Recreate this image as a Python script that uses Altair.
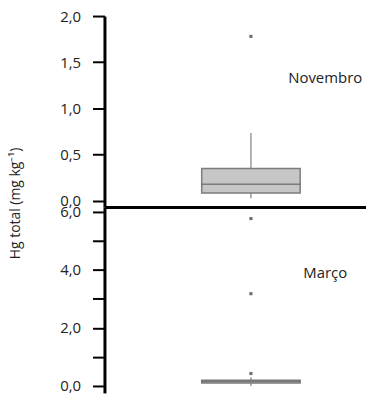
import altair as alt
import pandas as pd

# ---- data ----
months = ["Novembro", "Março"]
q1 = [0.086, 0.10]
median = [0.18, 0.15]
q3 = [0.35, 0.20]
whisk_lo = [0.03, 0.0]
whisk_hi = [0.735, 0.30]
outliers_nov = [1.78]
outliers_mar = [5.77, 3.18, 0.43]
ticks_nov = [0.0, 0.5, 1.0, 1.5, 2.0]
ticks_mar = [0, 1, 2, 3, 4, 5, 6]
y_title = "Hg total (mg kg⁻¹)"

FONT = "Open Sans"
W = 263


def panel(i, domain, height, outliers, ticks, label_expr, x_axis, title, label_y):
    box = pd.DataFrame({"mes": [months[i]], "q1": [q1[i]], "med": [median[i]],
                        "q3": [q3[i]], "lo": [whisk_lo[i]], "hi": [whisk_hi[i]]})
    out = pd.DataFrame({"mes": [months[i]] * len(outliers), "v": outliers})
    lab = pd.DataFrame({"t": [months[i]]})

    xenc = alt.X("mes:N", scale=alt.Scale(type="point", padding=0, align=0.56), axis=x_axis)
    yaxis = alt.Axis(values=ticks, labelExpr=label_expr, tickSize=12, tickWidth=2,
                     tickColor="black", domainColor="black", domainWidth=3,
                     labelFontSize=15, labelFont=FONT, labelColor="#222",
                     labelPadding=12, grid=False, title=title,
                     titleFont=FONT, titleFontSize=14, titleFontWeight="normal",
                     titleColor="#222", titlePadding=37, titleY=188)
    yscale = alt.Scale(domain=domain, nice=False, zero=False)

    whisker = alt.Chart(box).mark_rule(color="#9a9a9a", strokeWidth=1.5).encode(
        x=xenc, y=alt.Y("lo:Q", scale=yscale, axis=yaxis), y2="hi:Q")
    rect = alt.Chart(box).mark_bar(size=99, color="#c6c6c6", stroke="#7c7c7c",
                                   strokeWidth=1.5).encode(
        x=xenc, y=alt.Y("q1:Q", scale=yscale, axis=yaxis), y2="q3:Q")
    med = alt.Chart(box).mark_tick(size=99, color="#5c5c5c", thickness=1.5).encode(
        x=xenc, y=alt.Y("med:Q", scale=yscale, axis=yaxis))
    pts = alt.Chart(out).mark_square(size=10, color="#6e6e6e", opacity=1).encode(
        x=xenc, y=alt.Y("v:Q", scale=yscale, axis=yaxis))
    txt = alt.Chart(lab).mark_text(font=FONT, fontSize=15, color="#222").encode(
        text="t:N", x=alt.value(222), y=alt.value(label_y))
    return alt.layer(whisker, rect, med, pts, txt).properties(width=W, height=height)


fmt = "replace(format(datum.value, '.1f'), '.', ',')"
top = panel(0, [-0.065, 2.0], 192, outliers_nov, ticks_nov, fmt,
            alt.Axis(labels=False, ticks=False, title=None, domainColor="black",
                     domainWidth=3, grid=False),
            y_title, 62)
bottom = panel(1, [-0.24, 6.17], 187, outliers_mar, ticks_mar,
               "datum.value % 2 == 0 ? " + fmt + " : ''", None, None, 66)

chart = alt.vconcat(top, bottom, spacing=0, bounds="flush").properties(
    padding={"left": 0, "top": 0, "right": 0, "bottom": 0},
    background="white",
).configure_view(stroke=None)

chart.save("out.html", embed_options={"renderer": "svg", "actions": False})
